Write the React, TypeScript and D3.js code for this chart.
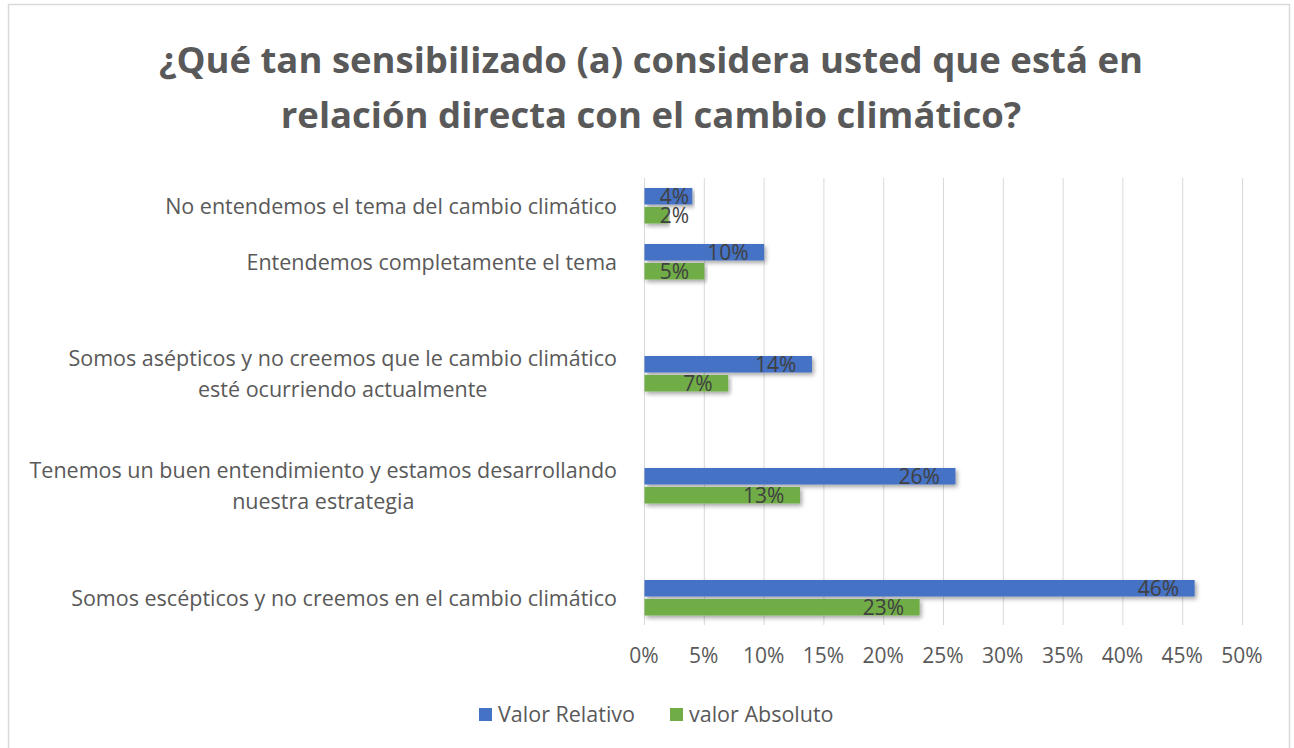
import React, { useEffect, useRef } from 'react';
import * as d3 from 'd3';

const titleLines = [
  '¿Qué tan sensibilizado (a) considera usted que está en',
  'relación directa con el cambio climático?',
];

// categories, top to bottom as shown
const categoryLines = [
  ['No entendemos el tema del cambio climático '],
  ['Entendemos completamente el tema'],
  ['Somos asépticos y no creemos que le cambio climático', 'esté ocurriendo actualmente'],
  ['Tenemos un buen entendimiento y estamos desarrollando', 'nuestra estrategia'],
  ['Somos escépticos y no creemos en el cambio climático'],
];
const valorRelativo = [0.04, 0.1, 0.14, 0.26, 0.46];
const valorAbsoluto = [0.02, 0.05, 0.07, 0.13, 0.23];
// category slots on the band axis, empty slots kept as spacing
const slots = ['c0', 'c1', 's1', 'c2', 's2', 'c3', 's3', 'c4'];
const catSlot = ['c0', 'c1', 'c2', 'c3', 'c4'];
const xTicks = d3.range(0, 0.5001, 0.05);
const seriesNames = ['Valor Relativo', 'valor Absoluto'];
const seriesColors = ['#4472C4', '#70AD47'];

const W = 1294;
const H = 748;
const FONT = '"Open Sans", sans-serif';

const App = () => {
  const ref = useRef(null);

  useEffect(() => {
    const svg = d3.select(ref.current);
    svg.selectAll('*').remove();

    const x = d3.scaleLinear().domain([0, 0.5]).range([644, 1242]);
    const y = d3.scaleBand().domain(slots).range([178, 626]);
    const barH = 16.5;

    const defs = svg.append('defs');
    const f = defs.append('filter').attr('id', 'shadow').attr('x', '-5%').attr('y', '-50%').attr('width', '110%').attr('height', '200%');
    f.append('feDropShadow').attr('dx', 2).attr('dy', 2.5).attr('stdDeviation', 2).attr('flood-color', '#000').attr('flood-opacity', 0.35);

    svg.append('rect').attr('x', 0).attr('y', 0).attr('width', W).attr('height', H).attr('fill', '#fff');
    svg.append('rect').attr('x', 8.5).attr('y', 4.5).attr('width', 1281).attr('height', 760)
      .attr('fill', 'none').attr('stroke', '#d9d9d9').attr('stroke-width', 1.5);

    // title
    svg.append('g').selectAll('text').data(titleLines).enter().append('text')
      .attr('x', 651).attr('y', (d, i) => 73 + i * 55)
      .attr('text-anchor', 'middle')
      .attr('font-family', FONT).attr('font-weight', 700).attr('font-size', 36.5)
      .attr('fill', '#595959')
      .text((d) => d);

    // gridlines
    svg.append('g').selectAll('line').data(xTicks).enter().append('line')
      .attr('x1', (d) => x(d) + 0.5).attr('x2', (d) => x(d) + 0.5)
      .attr('y1', 178).attr('y2', 625)
      .attr('stroke', '#d9d9d9').attr('stroke-width', 1);

    // tick labels
    svg.append('g').selectAll('text').data(xTicks).enter().append('text')
      .attr('x', (d) => x(d)).attr('y', 663)
      .attr('text-anchor', 'middle')
      .attr('font-family', FONT).attr('font-size', 21).attr('fill', '#595959')
      .text((d) => `${Math.round(d * 100)}%`);

    // bars
    const series = [valorRelativo, valorAbsoluto];
    series.forEach((vals, si) => {
      const g = svg.append('g');
      g.selectAll('rect').data(vals).enter().append('rect')
        .attr('x', x(0) + 0.5)
        .attr('y', (d, i) => y(catSlot[i]) + y.bandwidth() / 2 - 18 + si * 19)
        .attr('width', (d) => x(d) - x(0))
        .attr('height', barH)
        .attr('fill', seriesColors[si])
        .attr('filter', 'url(#shadow)');
      g.selectAll('text').data(vals).enter().append('text')
        .attr('x', (d) => Math.max(x(d) - 15, x(0) + 45))
        .attr('y', (d, i) => y(catSlot[i]) + y.bandwidth() / 2 - 18 + si * 19 + barH / 2)
        .attr('dy', '0.36em')
        .attr('text-anchor', 'end')
        .attr('font-family', FONT).attr('font-size', 21).attr('fill', '#404040')
        .text((d) => `${Math.round(d * 100)}%`);
    });

    // category labels: wrapped block right-aligned, lines centred in block
    categoryLines.forEach((lines, i) => {
      const cy = y(catSlot[i]) + y.bandwidth() / 2;
      const t = svg.append('g');
      const texts = t.selectAll('text').data(lines).enter().append('text')
        .attr('y', (d, j) => cy + (j - (lines.length - 1) / 2) * 31)
        .attr('dy', '0.36em')
        .attr('text-anchor', 'middle')
        .attr('font-family', FONT).attr('font-size', 21.5).attr('fill', '#595959')
        .text((d) => d);
      let w = 0;
      texts.each(function () { w = Math.max(w, (this as SVGTextElement).getComputedTextLength()); });
      texts.attr('x', 617 - w / 2);
    });

    // legend
    const lx = [479, 670];
    seriesNames.forEach((name, i) => {
      svg.append('rect').attr('x', lx[i]).attr('y', 708).attr('width', 13).attr('height', 13).attr('fill', seriesColors[i]);
      svg.append('text').attr('x', lx[i] + 19).attr('y', 722)
        .attr('font-family', FONT).attr('font-size', 21.5).attr('fill', '#595959')
        .text(name);
    });
  }, []);

  return (
    <svg ref={ref} width={W} height={H} style={{ position: 'absolute', left: 0, top: 0 }} />
  );
};

export default App;
